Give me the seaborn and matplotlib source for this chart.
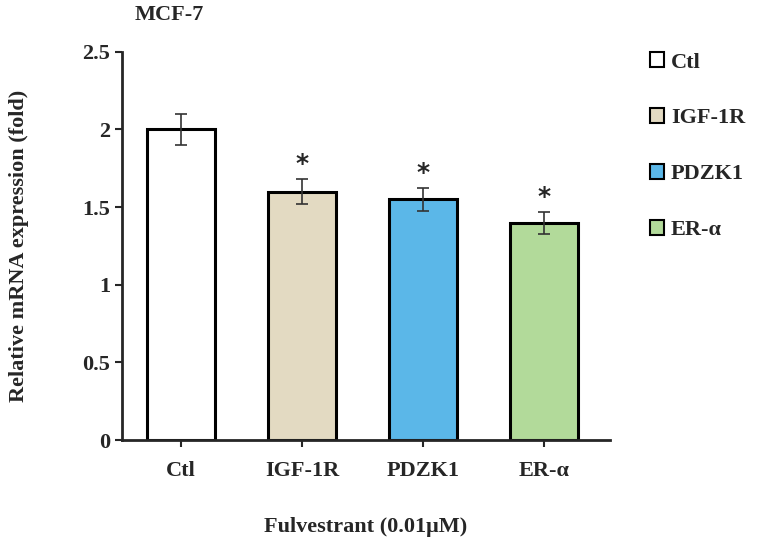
import pandas as pd
import seaborn as sns
import matplotlib.pyplot as plt
import numpy as np

# Data
groups = ['Ctl', 'IGF-1R', 'PDZK1', 'ER-α']
values = [2.0, 1.6, 1.55, 1.4]
errors = [0.1, 0.08, 0.075, 0.07]
signif = ['', '*', '*', '*']
colors = ['#FFFFFF', '#E3DAC2', '#5BB7E8', '#B2DA9A']

df = pd.DataFrame({'group': groups, 'value': values, 'err': errors})

sns.set_style('white')
plt.rcParams['font.family'] = ['Liberation Serif', 'DejaVu Serif']
plt.rcParams['font.weight'] = 'bold'
fs = 16

fig = plt.figure(figsize=(7.57, 5.4), dpi=100)
ax = fig.add_axes([0.161, 0.185, 0.645, 0.719])

sns.barplot(data=df, x='group', y='value', hue='group', palette=colors,
            saturation=1, width=0.56, edgecolor='black', linewidth=2.2,
            ax=ax, legend=True)

x = np.arange(len(groups))
ax.errorbar(x, df['value'], yerr=df['err'], fmt='none', ecolor='#333333',
            elinewidth=1.2, capsize=4, capthick=1.2)
for xi, v, e, s in zip(x, values, errors, signif):
    if s:
        ax.text(xi, v + e + 0.02, s, ha='center', va='bottom', fontsize=18,
                fontweight='bold', family='DejaVu Sans')

ax.set_ylim(0, 2.5)
ax.set_yticks([0, 0.5, 1, 1.5, 2, 2.5])
ax.set_yticklabels(['0', '0.5', '1', '1.5', '2', '2.5'])
ax.set_xlim(-0.49, 3.55)
ax.tick_params(axis='both', labelsize=fs, length=5, width=1.5, direction='out',
               left=True, bottom=True)
for lab in ax.get_xticklabels() + ax.get_yticklabels():
    lab.set_fontweight('bold')
ax.tick_params(axis='x', pad=10)

sns.despine(ax=ax)
ax.spines['left'].set_linewidth(2)
ax.spines['bottom'].set_linewidth(2)

ax.set_xlabel('Fulvestrant (0.01μM)', fontsize=fs, fontweight='bold', labelpad=26)
ax.set_ylabel('Relative mRNA expression (fold)', fontsize=fs, fontweight='bold', labelpad=38)
fig.text(0.223, 0.972, 'MCF-7', fontsize=fs, fontweight='bold', ha='center', va='center')

leg = ax.legend(loc='upper left', bbox_to_anchor=(1.04, 1.05), frameon=False,
                fontsize=fs, handlelength=0.65, handleheight=0.65, handletextpad=0.3,
                labelspacing=1.6)
for h in leg.legend_handles:
    h.set_edgecolor('black')
    h.set_linewidth(1.5)
for t in leg.get_texts():
    t.set_fontweight('bold')

fig.savefig('out.png', dpi=100)
